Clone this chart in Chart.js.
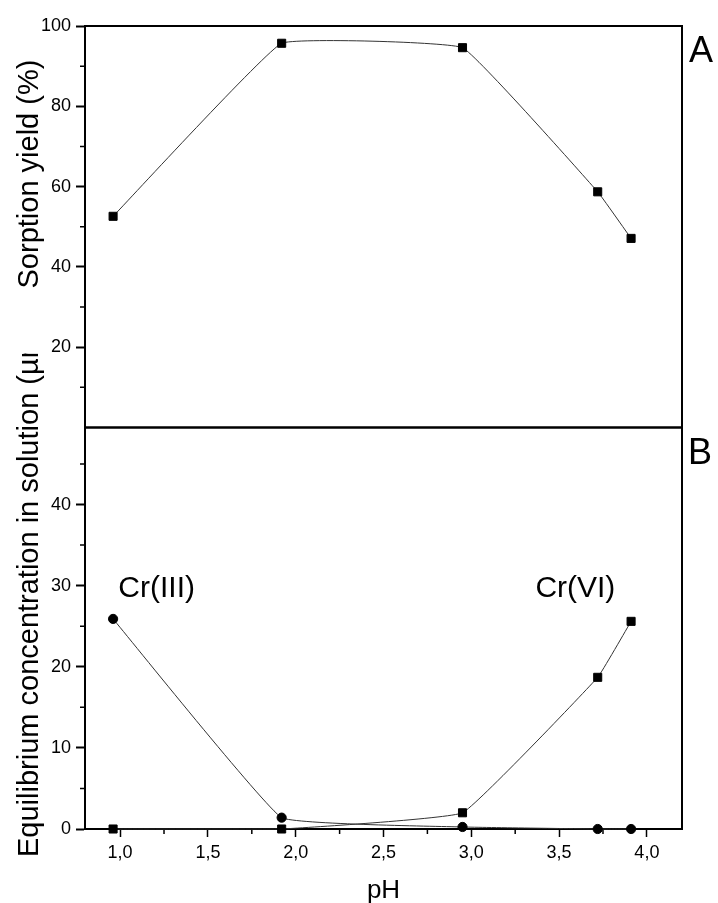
<!DOCTYPE html>
<html><head><meta charset="utf-8">
<script src="https://cdn.jsdelivr.net/npm/chart.js@4.4.1/dist/chart.umd.min.js"></script>
<style>html,body{margin:0;padding:0;background:#fff;} #wrap{position:relative;width:718px;height:903px;}</style>
</head><body><div id="wrap"><canvas id="c"></canvas></div>
<script>
// ---- data ----
const pH = [0.96, 1.92, 2.95, 3.72, 3.91];
const sorptionYield = [52.6, 95.7, 94.6, 58.7, 47.1];
const crIII = [25.9, 1.4, 0.25, 0, 0];
const crVI = [0, 0, 2.0, 18.7, 25.6];
const xTickValues = [1.0, 1.5, 2.0, 2.5, 3.0, 3.5, 4.0];
const xMinorTicks = [1.25, 1.75, 2.25, 2.75, 3.25, 3.75];
const yTopTickValues = [20, 40, 60, 80, 100];
const yTopMinorTicks = [10, 30, 50, 70, 90];
const yBottomTickValues = [0, 10, 20, 30, 40];
const yBottomMinorTicks = [5, 15, 25, 35, 45];
const titleTop = 'Sorption yield (%)';
const titleBottom = 'Equilibrium concentration in solution (µmol/L)';
const xTitle = 'pH';
const panelLabels = ['A', 'B'];
const seriesLabels = ['Cr(III)', 'Cr(VI)'];

const FONT = '"Liberation Sans", Arial, Helvetica, sans-serif';
Chart.defaults.font.family = FONT;
Chart.defaults.color = '#000';

const pts = ys => pH.map((x, i) => ({x: x, y: ys[i]}));
const common = {
  borderColor: '#333', borderWidth: 1, backgroundColor: '#000',
  pointBorderColor: '#000', pointBorderWidth: 1,
  tension: 0.08, clip: false, fill: false
};

const deco = {
  id: 'deco',
  beforeDatasetsDraw(chart) {
    const {ctx, chartArea: a, scales} = chart;
    const x = scales.x, yA = scales.yA, yB = scales.yB;
    ctx.save();
    ctx.strokeStyle = '#000';
    ctx.lineWidth = 2;
    ctx.beginPath();
    ctx.moveTo(a.left, a.top); ctx.lineTo(a.right + 1, a.top);
    ctx.moveTo(a.right, a.top); ctx.lineTo(a.right, a.bottom);
    ctx.stroke();
    ctx.lineWidth = 2.5;
    ctx.beginPath();
    ctx.moveTo(a.left, yA.bottom); ctx.lineTo(a.right, yA.bottom);
    ctx.stroke();
    ctx.lineWidth = 1.5;
    ctx.beginPath();
    xMinorTicks.forEach(v => { const p = x.getPixelForValue(v); ctx.moveTo(p, a.bottom); ctx.lineTo(p, a.bottom + 5); });
    yTopMinorTicks.forEach(v => { const p = yA.getPixelForValue(v); ctx.moveTo(a.left, p); ctx.lineTo(a.left - 5, p); });
    yBottomMinorTicks.forEach(v => { const p = yB.getPixelForValue(v); ctx.moveTo(a.left, p); ctx.lineTo(a.left - 5, p); });
    ctx.stroke();
    ctx.restore();
  },
  afterDraw(chart) {
    const {ctx, chartArea: a, scales} = chart;
    const x = scales.x, yA = scales.yA, yB = scales.yB;
    ctx.save();
    ctx.fillStyle = '#000';
    ctx.textBaseline = 'alphabetic';
    // panel letters
    ctx.font = '36px ' + FONT;
    ctx.textAlign = 'left';
    ctx.fillText(panelLabels[0], a.right + 7, yA.top + 36);
    ctx.fillText(panelLabels[1], a.right + 6, yB.top + 36);
    // series labels
    ctx.font = '30px ' + FONT;
    ctx.fillText(seriesLabels[0], x.getPixelForValue(0.99), yB.getPixelForValue(28.6));
    ctx.fillText(seriesLabels[1], x.getPixelForValue(3.365), yB.getPixelForValue(28.6));
    // x title
    ctx.font = '26px ' + FONT;
    ctx.textAlign = 'center';
    ctx.fillText(xTitle, (a.left + a.right) / 2, a.bottom + 69);
    // y titles
    ctx.font = '29px ' + FONT;
    ctx.textAlign = 'left';
    ctx.save();
    ctx.translate(a.left - 47, yA.bottom - 139);
    ctx.rotate(-Math.PI / 2);
    ctx.fillText(titleTop, 0, 0);
    ctx.restore();
    ctx.save();
    ctx.beginPath();
    ctx.rect(0, yA.bottom - 74, a.left - 12, chart.height);
    ctx.clip();
    ctx.translate(a.left - 47, a.bottom + 28);
    ctx.rotate(-Math.PI / 2);
    ctx.fillText(titleBottom, 0, 0);
    ctx.restore();
    ctx.restore();
  }
};

const yCommon = {
  type: 'linear', position: 'left', stack: 'panels', stackWeight: 1,
  border: {display: true, color: '#000', width: 2},
  grid: {display: true, drawOnChartArea: false, drawTicks: true, tickLength: 9, tickColor: '#000', tickWidth: 2},
  ticks: {font: {size: 18, family: FONT}, color: '#000', padding: 5},
  afterFit: s => { s.width = 85; }
};

new Chart(document.getElementById('c'), {
  type: 'line',
  data: {
    datasets: [
      Object.assign({label: 'Sorption yield', data: pts(sorptionYield), yAxisID: 'yA', pointStyle: 'rect', pointRadius: 5.7}, common),
      Object.assign({label: 'Cr(III)', data: pts(crIII), yAxisID: 'yB', pointStyle: 'circle', pointRadius: 4.6}, common),
      Object.assign({label: 'Cr(VI)', data: pts(crVI), yAxisID: 'yB', pointStyle: 'rect', pointRadius: 5.7}, common)
    ]
  },
  options: {
    responsive: true, maintainAspectRatio: false, animation: false,
    layout: {padding: {left: 0, top: 26, right: 36, bottom: 0}},
    plugins: {legend: {display: false}, tooltip: {enabled: false}},
    scales: {
      x: {
        type: 'linear', min: 0.8, max: 4.2,
        border: {display: true, color: '#000', width: 2},
        grid: {display: true, drawOnChartArea: false, drawTicks: true, tickLength: 8, tickColor: '#000', tickWidth: 1.5},
        ticks: {font: {size: 18, family: FONT}, color: '#000', padding: 5, maxRotation: 0,
                callback: v => Number(v).toFixed(1).replace('.', ',')},
        afterBuildTicks: s => { s.ticks = xTickValues.map(v => ({value: v})); },
        afterFit: s => { s.height = 74; }
      },
      yB: Object.assign({}, yCommon, {
        min: 0, max: 49.5,
        afterBuildTicks: s => { s.ticks = yBottomTickValues.map(v => ({value: v})); }
      }),
      yA: Object.assign({}, yCommon, {
        min: 0, max: 100,
        afterBuildTicks: s => { s.ticks = yTopTickValues.map(v => ({value: v})); }
      })
    }
  },
  plugins: [deco]
});
</script>
</body></html>
